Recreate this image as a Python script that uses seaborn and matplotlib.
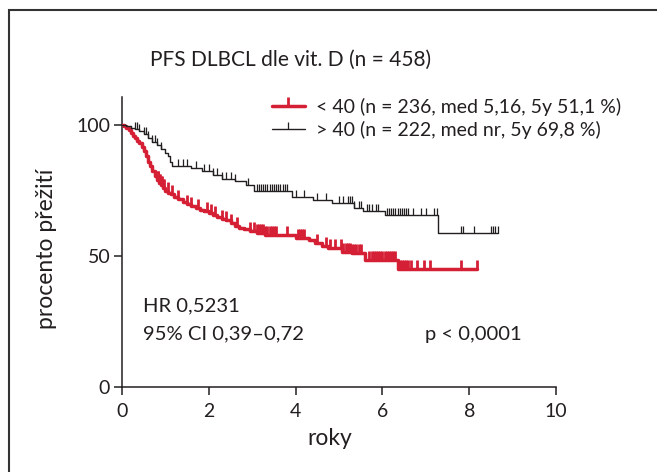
import numpy as np
import pandas as pd
import seaborn as sns
import matplotlib
matplotlib.use("Agg")
import matplotlib.pyplot as plt
from matplotlib.lines import Line2D
from matplotlib.patches import Rectangle

# ---------------- data ----------------
title = "PFS DLBCL dle vit. D (n = 458)"
labels = ["< 40 (n = 236, med 5,16, 5y 51,1 %)", "> 40 (n = 222, med nr, 5y 69,8 %)"]

red_t = [0, 0.05, 0.1, 0.15, 0.2, 0.25, 0.3, 0.35, 0.4, 0.45, 0.5, 0.55, 0.6, 0.65,
         0.7, 0.75, 0.8, 0.85, 0.9, 0.95, 1.0, 1.06, 1.12, 1.2, 1.3, 1.4, 1.5, 1.6,
         1.7, 1.8, 1.9, 2.0, 2.1, 2.2, 2.3, 2.4, 2.5, 2.6, 2.7, 2.8, 2.95, 3.1, 3.3,
         4.0, 4.3, 4.45, 4.6, 4.75, 5.08, 5.3, 5.6, 6.36, 8.18]
red_s = [100, 99.5, 98.8, 98, 97, 96, 95, 94, 93, 91.5, 90, 88, 86, 84.5,
         82.5, 80.5, 79, 78, 77, 76, 75, 74.2, 73.5, 72.7, 71.8, 70.8, 70, 69.2,
         68.4, 67.4, 67, 66.4, 65.8, 65, 64.3, 63.6, 62.6, 61.6, 60.8, 60.3, 59.5, 58.8, 58,
         56.9, 56, 55, 54, 53, 51.5, 51, 48.5, 45, 45]
red_cens = [0.82, 0.84, 0.86, 0.88, 0.9, 0.93, 0.95, 0.97, 1.05, 1.15, 1.3, 1.5, 1.6,
            1.75, 1.95, 2.05, 2.15, 2.3, 2.4, 2.5, 2.65, 2.95, 3.05, 3.1, 3.15, 3.2,
            3.25, 3.3, 3.35, 3.4, 3.45, 3.5, 3.55, 3.8, 4.05, 4.1, 4.15, 4.2, 4.5,
            4.7, 4.8, 4.9, 5.05, 5.1, 5.15, 5.2, 5.25, 5.3, 5.35, 5.4, 5.45, 5.5,
            5.7, 5.75, 5.8, 5.85, 5.9, 5.95, 6.0, 6.05, 6.1, 6.15, 6.2, 6.25, 6.3,
            6.4, 6.45, 6.5, 6.55, 6.6, 6.65, 6.8, 6.95, 7.1, 7.8, 8.18]

blk_t = [0, 0.1, 0.2, 0.3, 0.4, 0.5, 0.6, 0.7, 0.8, 0.9, 1.0, 1.05, 1.1, 1.15, 1.6,
         1.85, 2.1, 2.3, 2.6, 2.85, 3.05, 3.92, 4.4, 4.85, 5.35, 5.55, 6.06, 7.27, 8.66]
blk_s = [100, 99.5, 99, 98.5, 97.7, 96.5, 95, 93.5, 92.2, 91, 89.5, 88, 86, 84.3, 83.5,
         82.5, 81, 79.5, 78.5, 77, 75, 72.5, 71.4, 70.2, 68.5, 67.3, 65.5, 58.8, 58.8]
blk_cens = [0.3, 0.35, 0.4, 0.5, 0.55, 0.6, 0.7, 0.75, 0.8, 0.9, 1.3, 1.4, 1.5, 1.7,
            1.9, 2.0, 2.1, 2.2, 2.3, 2.4, 2.5, 2.6, 2.9, 3.1, 3.15, 3.2, 3.25, 3.3,
            3.35, 3.4, 3.45, 3.5, 3.55, 3.6, 3.65, 3.7, 3.75, 3.8, 4.0, 4.2, 4.5,
            4.7, 5.0, 5.1, 5.2, 5.25, 5.3, 5.35, 5.45, 5.5, 5.65, 5.7, 5.75, 5.85,
            5.9, 6.1, 6.15, 6.2, 6.25, 6.3, 6.35, 6.4, 6.45, 6.5, 6.55, 6.6, 6.7,
            6.9, 7.0, 7.2, 7.25, 7.8, 7.85, 8.1, 8.5, 8.55, 8.6, 8.66]

x_ticks = [0, 2, 4, 6, 8, 10]
y_ticks = [0, 50, 100]

# ---------------- style ----------------
sns.set_theme(style="ticks")
plt.rcParams["font.family"] = ["Lato", "DejaVu Sans"]
TXT = "#231f20"
RED = "#d51f35"
FS = 14
plt.rcParams.update({"text.color": TXT, "axes.labelcolor": TXT,
                     "xtick.color": TXT, "ytick.color": TXT,
                     "axes.edgecolor": TXT})

fig = plt.figure(figsize=(6.57, 4.72), dpi=100)
ax = fig.add_axes([122 / 657, 1 - 387 / 472, 434 / 657, 290 / 472])

df_red = pd.DataFrame({"t": red_t, "s": red_s})
df_blk = pd.DataFrame({"t": blk_t, "s": blk_s})
sns.lineplot(data=df_red, x="t", y="s", drawstyle="steps-post", estimator=None,
             color=RED, lw=2.5, ax=ax, zorder=3)
sns.lineplot(data=df_blk, x="t", y="s", drawstyle="steps-post", estimator=None,
             color=TXT, lw=1.0, ax=ax, zorder=4)


def step_at(ts, ss, c):
    idx = np.searchsorted(np.asarray(ts), np.asarray(c), side="right") - 1
    return np.asarray(ss)[idx]


ax.plot(red_cens, step_at(red_t, red_s, red_cens), ls="none", marker=2,
        ms=6.5, mew=2.0, color=RED, zorder=3)
ax.plot(blk_cens, step_at(blk_t, blk_s, blk_cens), ls="none", marker=2,
        ms=5, mew=0.9, color=TXT, zorder=4)

ax.set_xlim(0, 10)
ax.set_ylim(0, 110.7)
ax.set_xticks(x_ticks)
ax.set_yticks(y_ticks)
ax.set_xticklabels([str(v) for v in x_ticks], fontsize=FS)
ax.set_yticklabels([str(v) for v in y_ticks], fontsize=FS)
ax.tick_params(direction="out", length=5.5, width=1.1)
ax.tick_params(axis="x", pad=6)
ax.tick_params(axis="y", pad=3)
sns.despine(ax=ax)
for sp in ["left", "bottom"]:
    ax.spines[sp].set_linewidth(1.1)

ax.set_xlabel("roky", fontsize=16.5)
ax.set_ylabel("procento přežití", fontsize=16.5)
ax.xaxis.set_label_coords(0.479, -0.14)
ax.yaxis.set_label_coords(-0.15, 0.475)

# texts
fig.text(150 / 657, 1 - 60 / 472, title, fontsize=15, ha="left", va="center")
ax.text(0.48, 30.9, "HR 0,5231", fontsize=14.6, ha="left", va="center")
ax.text(0.48, 20.2, "95% CI 0,39–0,72", fontsize=14.6, ha="left", va="center")
ax.text(6.98, 20.2, "p < 0,0001", fontsize=14.6, ha="left", va="center")

handles = [Line2D([], [], color=RED, lw=2.5, marker=2, ms=6.5, mew=2.0),
           Line2D([], [], color=TXT, lw=1.0, marker=2, ms=5, mew=0.9)]
fig.legend(handles, labels, loc="upper left",
           bbox_to_anchor=(262 / 657, 1 - 88 / 472), frameon=False,
           fontsize=FS, handlelength=1.7, handletextpad=0.6, borderpad=0,
           labelspacing=0.25, numpoints=1)

# outer frame (clipped at right and bottom)
fig.patches.append(Rectangle((9 / 657, -0.2), 1.2, 1 - 10 / 472 + 0.2,
                             transform=fig.transFigure, fill=False,
                             lw=1.5, edgecolor="#333333"))

fig.savefig("out.png", dpi=100)
